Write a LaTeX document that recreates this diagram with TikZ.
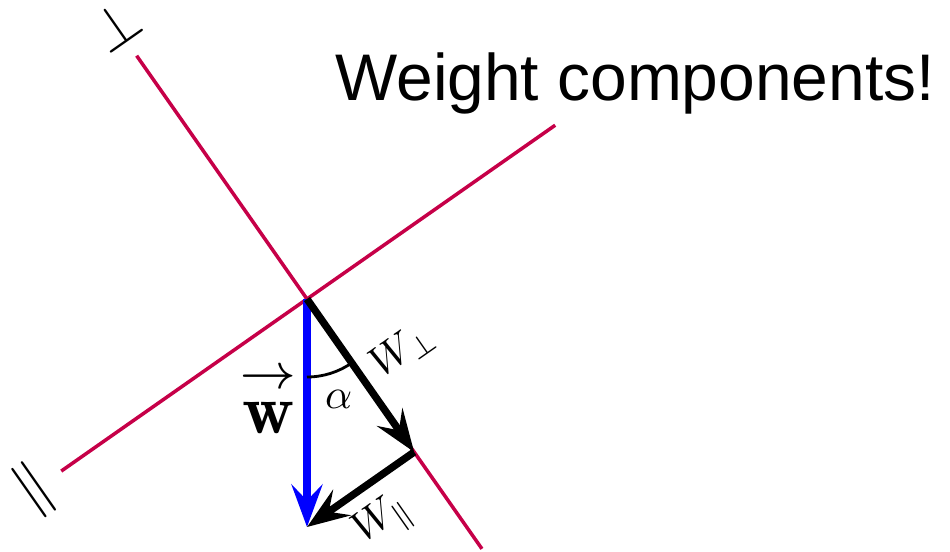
\documentclass[tikz,border=0pt]{standalone}
\usepackage{amsmath}
\usepackage{fontspec}
\newfontfamily\titlefont{Liberation Sans}
\usetikzlibrary{arrows.meta}
\definecolor{axisred}{RGB}{198,0,72}

\begin{document}
\begin{tikzpicture}[
  x=2cm, y=2cm,
  axis/.style={draw=axisred, line width=2pt},
  comp/.style={line width=4.2pt, -{Stealth[length=0.85cm, width=0.62cm, inset=0.32cm]}},
  lbl/.style={font=\normalsize, scale=2.4, transform shape, inner sep=0pt},
  axlbl/.style={font=\normalsize, scale=3.4, rotate=35, transform shape, inner sep=0pt}
]
  \useasboundingbox (-3.07,-2.52) rectangle (6.43,2.99);
  % axes of the tilted frame
  \coordinate (O) at (0,0);
  \coordinate (perpA) at (125:2.97);
  \coordinate (perpB) at (-55:3.05);
  \coordinate (parA) at (215:3.0);
  \coordinate (parB) at (35:3.03);
  \draw[axis] (perpA) -- (perpB);
  \draw[axis] (parA) -- (parB);
  \node[axlbl] (perpsym) at (125:3.34) {$\perp$};
  \node[axlbl] (parsym)  at (215:3.33) {$\parallel$};

  % weight and its components
  \coordinate (W) at (0,-2.28);
  \coordinate (Wperp) at (-55:1.868);
  \draw[comp, blue, line width=5pt] (O) -- (W);
  \draw[comp] (O) -- (Wperp);
  \draw[comp] (Wperp) -- (W);
  \draw[line width=1.6pt] (0,-0.78) arc[start angle=-90, end angle=-55, radius=0.78];

  \node[font=\normalsize, xscale=4.1, yscale=4.0, inner sep=0pt]
    (wlbl) at (-0.385,-0.99) {$\overset{\rightarrow}{\mathbf{w}}$};
  \node[lbl] (alpha)    at (-72.5:1.05) {$\alpha$};
  \node[lbl, rotate=35] (wperplbl) at (0.96,-0.51) {$W_\perp$};
  \node[lbl, rotate=35] (wparlbl)  at (0.77,-2.22) {$W_\parallel$};

  \node[anchor=base west, inner sep=0pt, font=\titlefont\fontsize{37.5}{40}\selectfont]
    (title) at (0.28,1.99) {Weight components!};
\end{tikzpicture}
\end{document}
